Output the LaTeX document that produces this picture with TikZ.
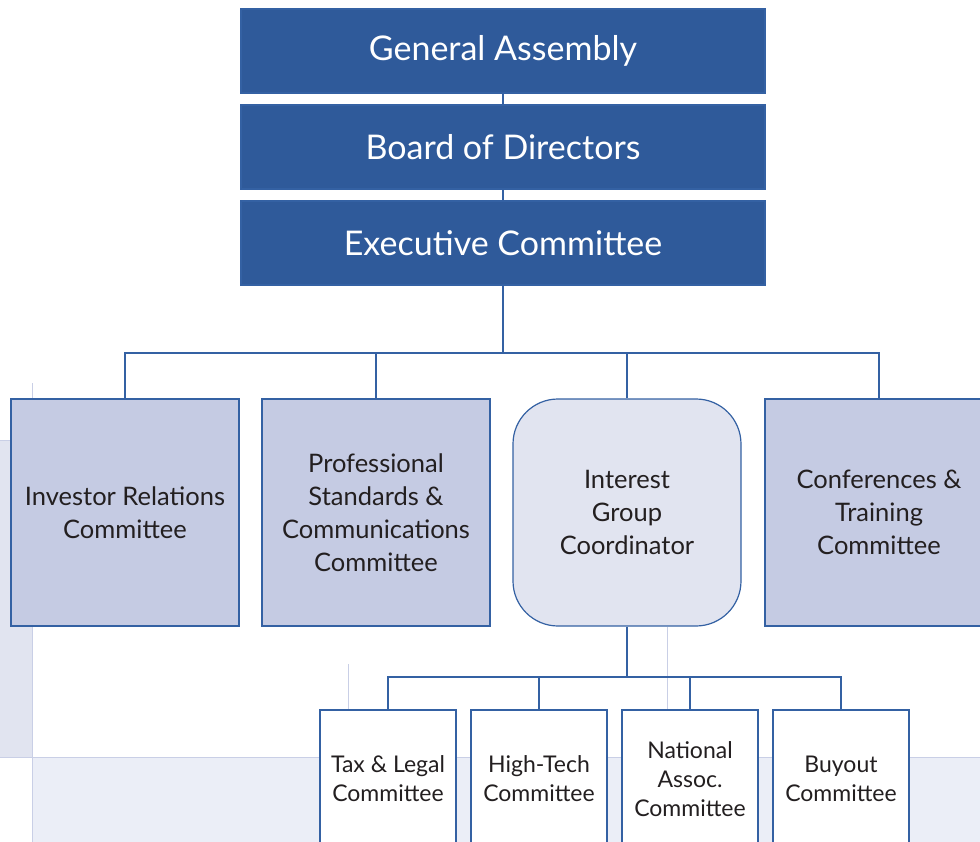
\documentclass[tikz,border=0pt]{standalone}
\usepackage{fontspec}
\setmainfont{Lato}
\definecolor{topblue}{HTML}{2F5A9A}
\definecolor{edgeblue}{HTML}{3461A3}
\definecolor{midfill}{HTML}{C5CBE3}
\definecolor{softfill}{HTML}{E1E4F0}
\definecolor{bgline}{HTML}{C9CFE6}
\definecolor{bgside}{HTML}{E1E4F0}
\definecolor{bgband}{HTML}{EBEEF7}
\definecolor{txtgray}{HTML}{231F20}
\tikzset{
  topbox/.style={draw=edgeblue,fill=topblue,text=white,line width=1.2pt,
    minimum width=524pt,minimum height=84pt,font=\fontsize{34}{40}\selectfont},
  midbox/.style={draw=edgeblue,fill=midfill,text=txtgray,line width=1.2pt,
    minimum width=228pt,minimum height=227pt,align=center,
    font=\fontsize{25.5}{33}\selectfont},
  lowbox/.style={draw=edgeblue,fill=white,text=txtgray,line width=1.2pt,
    minimum width=136pt,minimum height=138pt,align=center,inner sep=1pt,
    font=\fontsize{23}{29}\selectfont},
  conn/.style={draw=edgeblue,line width=1.2pt},
  bgrule/.style={draw=bgline,line width=1pt}
}
\begin{document}
\begin{tikzpicture}[x=1pt,y=-1pt]
\useasboundingbox (0,0) rectangle (980,842);
\fill [bgside] (0,440) rectangle (32,757);
\fill [bgband] (32,757) rectangle (980,842);
\draw [bgrule] (0,440) -- (32,440);
\draw [bgrule] (32,383) -- (32,842);
\draw [bgrule] (0,757) -- (980,757);
\draw [bgrule] (348,664) -- (348,757);
\draw [bgrule] (667,627) -- (667,757);

\node [topbox] (assembly) at (503, 51) {General Assembly};
\node [topbox] (board)    at (503,147) {Board of Directors};
\node [topbox] (exec)     at (503,243) {Executive Committee};

\node [midbox] (investor) at (125,512.5) {Investor Relations\\ Committee};
\node [midbox] (profstd)  at (376,512.5) {Professional\\ Standards \&\\ Communications\\ Committee};
\node [midbox,fill=softfill,rounded corners=45pt]
               (interest) at (627,512.5) {Interest\\ Group\\ Coordinator};
\node [midbox] (confer)   at (879,512.5) {Conferences \&\\ Training\\ Committee};

\node [lowbox] (taxlegal) at (388,779) {Tax \& Legal\\ Committee};
\node [lowbox] (hightech) at (539,779) {High-Tech\\ Committee};
\node [lowbox] (natassoc) at (690,779) {National\\ Assoc.\\ Committee};
\node [lowbox] (buyout)   at (841,779) {Buyout\\ Committee};

\coordinate (upperbus) at (503,353);
\coordinate (lowerbus) at (627,677);

\draw [conn] (assembly.south) -- (board.north);
\draw [conn] (board.south) -- (exec.north);
\draw [conn] (exec.south) -- (upperbus);
\draw [conn] (investor.north) |- (upperbus) -| (confer.north);
\draw [conn] (profstd.north) -- (profstd.north |- upperbus);
\draw [conn] (interest.north) -- (interest.north |- upperbus);

\draw [conn] (interest.south) -- (lowerbus);
\draw [conn] (taxlegal.north) |- (lowerbus) -| (buyout.north);
\draw [conn] (hightech.north) -- (hightech.north |- lowerbus);
\draw [conn] (natassoc.north) -- (natassoc.north |- lowerbus);
\end{tikzpicture}
\end{document}
